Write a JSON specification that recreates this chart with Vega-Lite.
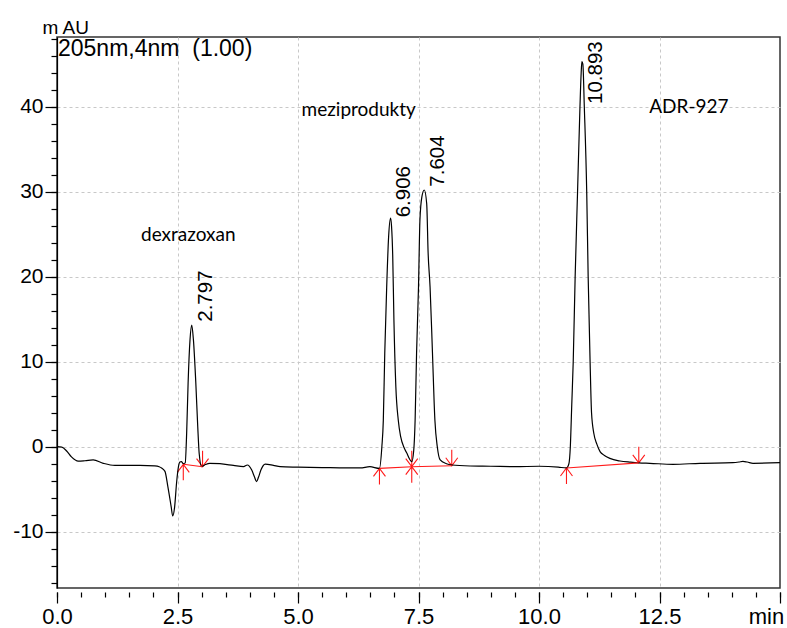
{
  "$schema": "https://vega.github.io/schema/vega-lite/v6.json",
  "autosize": "none",
  "width": 723,
  "height": 551,
  "padding": {"left": 57, "top": 37, "right": 7, "bottom": 40},
  "background": "white",
  "config": {
    "view": {"stroke": "#333333", "strokeWidth": 1.5},
    "font": "Liberation Sans",
    "axis": {"labelFont": "Liberation Sans", "labelColor": "#000000", "tickColor": "#000000", "labelFlush": false, "labelOverlap": false}
  },
  "datasets": {
    "trace": [
      {"t": 0, "v": 0}, {"t": 0.1, "v": -0.05}, {"t": 0.2, "v": -0.5}, {"t": 0.3, "v": -1.2},
      {"t": 0.44, "v": -1.7}, {"t": 0.58, "v": -1.65}, {"t": 0.75, "v": -1.55}, {"t": 0.96, "v": -1.95},
      {"t": 1.2, "v": -2.2}, {"t": 1.5, "v": -2.2}, {"t": 1.72, "v": -2.2}, {"t": 2.03, "v": -2.25},
      {"t": 2.12, "v": -2.35}, {"t": 2.17, "v": -2.5}, {"t": 2.24, "v": -2.9}, {"t": 2.3, "v": -4.7},
      {"t": 2.37, "v": -7.1}, {"t": 2.4, "v": -8.15}, {"t": 2.44, "v": -7.1}, {"t": 2.48, "v": -4.3},
      {"t": 2.52, "v": -2.35}, {"t": 2.55, "v": -1.8}, {"t": 2.58, "v": -1.75}, {"t": 2.62, "v": -2.0},
      {"t": 2.66, "v": -1.9}, {"t": 2.69, "v": 1.6}, {"t": 2.72, "v": 7.5}, {"t": 2.76, "v": 12.6},
      {"t": 2.795, "v": 14.3}, {"t": 2.83, "v": 12.6}, {"t": 2.88, "v": 7.5}, {"t": 2.92, "v": 2.35},
      {"t": 2.95, "v": -0.8}, {"t": 3.0, "v": -2.35}, {"t": 3.08, "v": -2.1}, {"t": 3.17, "v": -1.95},
      {"t": 3.38, "v": -2.0}, {"t": 3.66, "v": -2.2}, {"t": 3.87, "v": -2.35}, {"t": 3.95, "v": -2.15},
      {"t": 4.04, "v": -2.75}, {"t": 4.1, "v": -3.6}, {"t": 4.14, "v": -4.1}, {"t": 4.18, "v": -3.6},
      {"t": 4.23, "v": -2.75}, {"t": 4.32, "v": -2.05}, {"t": 4.49, "v": -2.2}, {"t": 4.63, "v": -2.35},
      {"t": 5.0, "v": -2.4}, {"t": 5.5, "v": -2.45}, {"t": 6.0, "v": -2.5}, {"t": 6.29, "v": -2.5},
      {"t": 6.49, "v": -2.35}, {"t": 6.69, "v": -2.55}, {"t": 6.74, "v": 0}, {"t": 6.77, "v": 3.1},
      {"t": 6.8, "v": 11}, {"t": 6.84, "v": 18.8}, {"t": 6.88, "v": 24.7}, {"t": 6.92, "v": 26.9},
      {"t": 6.94, "v": 26.0}, {"t": 6.965, "v": 22.5}, {"t": 6.99, "v": 14.9}, {"t": 7.03, "v": 7.06},
      {"t": 7.08, "v": 3.14}, {"t": 7.13, "v": 1.18}, {"t": 7.2, "v": -0.1}, {"t": 7.26, "v": -0.78},
      {"t": 7.32, "v": -1.5}, {"t": 7.36, "v": -1.76}, {"t": 7.4, "v": -0.5}, {"t": 7.43, "v": 3.14},
      {"t": 7.46, "v": 11}, {"t": 7.5, "v": 18.8}, {"t": 7.53, "v": 26.7}, {"t": 7.57, "v": 29.4},
      {"t": 7.62, "v": 30.2}, {"t": 7.67, "v": 28.6}, {"t": 7.7, "v": 22.75}, {"t": 7.74, "v": 18.8},
      {"t": 7.79, "v": 11}, {"t": 7.84, "v": 3.14}, {"t": 7.89, "v": 0}, {"t": 7.95, "v": -1.56},
      {"t": 8.08, "v": -2.0}, {"t": 8.19, "v": -2.15}, {"t": 8.57, "v": -2.27}, {"t": 9.0, "v": -2.3},
      {"t": 9.5, "v": -2.35}, {"t": 10.0, "v": -2.3}, {"t": 10.4, "v": -2.4}, {"t": 10.57, "v": -2.5},
      {"t": 10.62, "v": -2.0}, {"t": 10.65, "v": 0}, {"t": 10.68, "v": 5}, {"t": 10.71, "v": 10},
      {"t": 10.75, "v": 20}, {"t": 10.8, "v": 30}, {"t": 10.85, "v": 40}, {"t": 10.875, "v": 44},
      {"t": 10.89, "v": 45.3}, {"t": 10.91, "v": 45.0}, {"t": 10.94, "v": 40}, {"t": 10.99, "v": 30},
      {"t": 11.02, "v": 20}, {"t": 11.06, "v": 10}, {"t": 11.09, "v": 4}, {"t": 11.14, "v": 1.5},
      {"t": 11.2, "v": 0.3}, {"t": 11.27, "v": -0.6}, {"t": 11.35, "v": -1.0}, {"t": 11.47, "v": -1.37},
      {"t": 11.68, "v": -1.68}, {"t": 11.9, "v": -1.82}, {"t": 12.07, "v": -1.9}, {"t": 12.3, "v": -1.95},
      {"t": 12.78, "v": -2.07}, {"t": 13.34, "v": -1.95}, {"t": 14.02, "v": -1.88}, {"t": 14.15, "v": -1.8},
      {"t": 14.23, "v": -1.72}, {"t": 14.32, "v": -1.8}, {"t": 14.44, "v": -1.95}, {"t": 15.0, "v": -1.88}
    ],
    "baselines": [
      {"seg": 1, "t": 2.62, "v": -2.07}, {"seg": 1, "t": 3.02, "v": -2.35},
      {"seg": 2, "t": 6.69, "v": -2.55}, {"seg": 2, "t": 7.36, "v": -2.35}, {"seg": 2, "t": 8.19, "v": -2.24},
      {"seg": 3, "t": 10.57, "v": -2.5}, {"seg": 3, "t": 12.07, "v": -1.9}
    ],
    "markers": [
      {"t": 2.62, "v": -2.07, "kind": "start"}, {"t": 3.02, "v": -2.35, "kind": "end"},
      {"t": 6.69, "v": -2.55, "kind": "start"}, {"t": 7.36, "v": -2.35, "kind": "both"},
      {"t": 8.19, "v": -2.24, "kind": "end"}, {"t": 10.57, "v": -2.5, "kind": "start"},
      {"t": 12.07, "v": -1.9, "kind": "end"}
    ],
    "peaks": [
      {"rt": 2.797, "label": "2.797", "label_y": 14.7},
      {"rt": 6.906, "label": "6.906", "label_y": 26.99},
      {"rt": 7.604, "label": "7.604", "label_y": 30.59},
      {"rt": 10.893, "label": "10.893", "label_y": 40.32}
    ],
    "notes": [
      {"t": 2.724, "v": 24.24, "text": "dexrazoxan"},
      {"t": 6.26, "v": 38.9, "text": "meziprodukty"},
      {"t": 13.11, "v": 39.3, "text": "ADR-927"}
    ],
    "header": [
      {"t": 0, "v": 48.2, "text": "205nm,4nm\u00a0 (1.00)"}
    ]
  },
  "layer": [
    {
      "data": {"name": "markers"},
      "mark": {"type": "point", "filled": false, "size": 256, "stroke": "#ff1a1a", "strokeWidth": 1.1, "opacity": 1},
      "encoding": {
        "x": {"field": "t", "type": "quantitative", "scale": {"domain": [0, 15], "nice": false, "zero": false},
          "axis": {"values": [2.5, 5, 7.5, 10, 12.5], "orient": "bottom", "grid": true, "gridColor": "#c8c8c8", "gridDash": [3, 3], "gridWidth": 1, "ticks": false, "labels": false, "domain": false, "title": null, "zindex": 0}},
        "y": {"field": "v", "type": "quantitative", "scale": {"domain": [-16.62, 48.2], "nice": false, "zero": false},
          "axis": {"values": [-10, 0, 10, 20, 30, 40], "orient": "left", "grid": true, "gridColor": "#c8c8c8", "gridDash": [3, 3], "gridWidth": 1, "ticks": false, "labels": false, "domain": false, "title": null, "zindex": 0}},
        "shape": {"field": "kind", "type": "nominal", "legend": null,
          "scale": {"domain": ["start", "end", "both"], "range": ["M0,0L0,2M-0.75,1L0,0L0.75,1", "M0,0L0,-2M-0.75,-1L0,0L0.75,-1", "M0,-2L0,2M-0.75,1L0,0L0.75,1M-0.75,-1L0,0L0.75,-1"]}}
      }
    },
    {
      "data": {"name": "trace"},
      "mark": {"type": "line", "color": "#000000", "strokeWidth": 1.2, "interpolate": "monotone"},
      "encoding": {
        "x": {"field": "t", "type": "quantitative", "scale": {"domain": [0, 15], "nice": false, "zero": false},
          "axis": {"values": [0, 2.5, 5, 7.5, 10, 12.5, 15], "orient": "bottom", "offset": 4, "domain": false, "grid": false, "tickSize": 11, "tickWidth": 1.2,
            "labelFontSize": 22, "labelPadding": 3,
            "labelExpr": "datum.value == 15 ? 'min' : format(datum.value, '.1f')",
            "labelOffset": {"condition": {"test": "datum.value == 15", "value": -14}, "value": 0},
            "title": null, "zindex": 1}},
        "y": {"field": "v", "type": "quantitative", "scale": {"domain": [-16.62, 48.2], "nice": false, "zero": false},
          "axis": {"values": [-10, 0, 10, 20, 30, 40], "orient": "left", "domain": true, "domainColor": "#000000", "domainWidth": 1.2, "grid": false, "tickSize": 12, "tickWidth": 1.2,
            "labelFontSize": 21, "labelPadding": 2,
            "labelExpr": "datum.value < 0 ? '-' + abs(datum.value) : '' + datum.value",
            "title": "m AU", "titleAngle": 0, "titleAlign": "left", "titleBaseline": "alphabetic", "titleX": -15, "titleY": -4,
            "titleFontSize": 19, "titleFontWeight": "normal", "titleFont": "Liberation Sans", "titleColor": "#000000", "zindex": 1}}
      }
    },
    {
      "data": {"name": "baselines"},
      "mark": {"type": "line", "color": "#ff1a1a", "strokeWidth": 1.1},
      "encoding": {
        "x": {"field": "t", "type": "quantitative", "scale": {"domain": [0, 15], "nice": false, "zero": false},
          "axis": {"values": [0, 0.5, 1, 1.5, 2, 2.5, 3, 3.5, 4, 4.5, 5, 5.5, 6, 6.5, 7, 7.5, 8, 8.5, 9, 9.5, 10, 10.5, 11, 11.5, 12, 12.5, 13, 13.5, 14, 14.5, 15],
            "orient": "bottom", "offset": 4, "domain": false, "grid": false, "tickSize": 5, "tickWidth": 1.2, "labels": false, "title": null, "zindex": 1}},
        "y": {"field": "v", "type": "quantitative", "scale": {"domain": [-16.62, 48.2], "nice": false, "zero": false},
          "axis": {"values": [-16, -14, -12, -10, -8, -6, -4, -2, 0, 2, 4, 6, 8, 10, 12, 14, 16, 18, 20, 22, 24, 26, 28, 30, 32, 34, 36, 38, 40, 42, 44, 46, 48],
            "orient": "left", "domain": false, "grid": false, "tickSize": 6, "tickWidth": 1.2, "labels": false, "title": null, "zindex": 1}},
        "detail": {"field": "seg", "type": "nominal"}
      }
    },
    {
      "data": {"name": "peaks"},
      "mark": {"type": "text", "angle": 270, "align": "left", "baseline": "alphabetic", "dy": 20, "font": "Liberation Sans", "fontSize": 20.5, "color": "#000000"},
      "encoding": {
        "x": {"field": "rt", "type": "quantitative", "scale": {"domain": [0, 15], "nice": false, "zero": false}, "axis": null},
        "y": {"field": "label_y", "type": "quantitative", "scale": {"domain": [-16.62, 48.2], "nice": false, "zero": false}, "axis": null},
        "text": {"field": "label", "type": "nominal"}
      }
    },
    {
      "data": {"name": "notes"},
      "mark": {"type": "text", "align": "center", "baseline": "alphabetic", "font": "Lato", "fontSize": 19, "color": "#000000"},
      "encoding": {
        "x": {"field": "t", "type": "quantitative", "scale": {"domain": [0, 15], "nice": false, "zero": false}, "axis": null},
        "y": {"field": "v", "type": "quantitative", "scale": {"domain": [-16.62, 48.2], "nice": false, "zero": false}, "axis": null},
        "text": {"field": "text", "type": "nominal"}
      }
    },
    {
      "data": {"name": "header"},
      "mark": {"type": "text", "align": "left", "baseline": "top", "dx": 1, "dy": 1, "font": "Liberation Sans", "fontSize": 23, "color": "#000000"},
      "encoding": {
        "x": {"field": "t", "type": "quantitative", "scale": {"domain": [0, 15], "nice": false, "zero": false}, "axis": null},
        "y": {"field": "v", "type": "quantitative", "scale": {"domain": [-16.62, 48.2], "nice": false, "zero": false}, "axis": null},
        "text": {"field": "text", "type": "nominal"}
      }
    }
  ],
  "resolve": {"axis": {"x": "independent", "y": "independent"}}
}
